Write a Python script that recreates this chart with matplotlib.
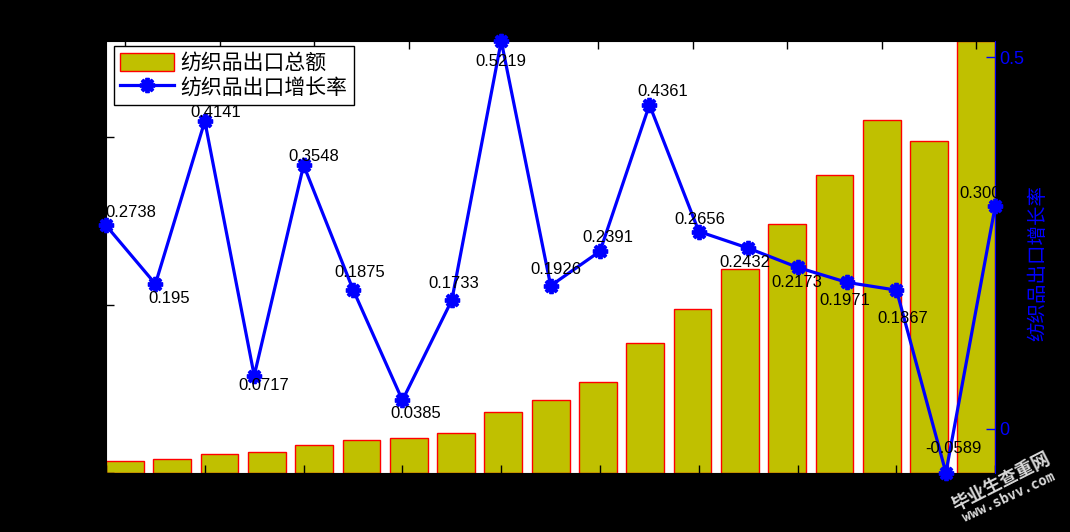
import numpy as np
import matplotlib
matplotlib.use("Agg")
import matplotlib.pyplot as plt

plt.rcParams['font.family'] = ['Liberation Sans', 'Noto Sans CJK SC', 'DejaVu Sans']

# -----------------------------
# Data
# -----------------------------
index = np.arange(1, 20)
export_total = [67.5, 80.6, 114, 122, 165, 196, 204, 239, 364, 434,
                538, 773, 978, 1216, 1480, 1772, 2103, 1979, 2573]
growth_rate = [0.2738, 0.195, 0.4141, 0.0717, 0.3548, 0.1875, 0.0385, 0.1733,
               0.5219, 0.1926, 0.2391, 0.4361, 0.2656, 0.2432, 0.2173, 0.1971,
               0.1867, -0.0589, 0.3003]
growth_labels = ['0.2738', '0.195', '0.4141', '0.0717', '0.3548', '0.1875',
                 '0.0385', '0.1733', '0.5219', '0.1926', '0.2391', '0.4361',
                 '0.2656', '0.2432', '0.2173', '0.1971', '0.1867', '-0.0589',
                 '0.3003']

# label offsets from the point (pixels, y up)
label_offsets = [(25, 13), (14, -15), (11, 9), (10, -10), (10, 9), (7, 17),
                 (13, -13), (2, 17), (0, -20), (5, 16), (8, 14), (13, 13),
                 (1, 12), (-3, -14), (-1, -15), (-2, -18), (6, -28), (8, 24),
                 (-11, 12)]

# -----------------------------
# Figure
# -----------------------------
fig = plt.figure(figsize=(10.7, 5.32), dpi=100, facecolor='black')
rect = [106 / 1070, 1 - 472.7 / 532, 889.3 / 1070, 431.7 / 532]

ax1 = fig.add_axes(rect, facecolor='white')
bars = ax1.bar(index, export_total, width=0.8, color='#C0C000',
               edgecolor='red', linewidth=1.0, label='纺织品出口总额')
ax1.set_xlim(0.6, 19.4)
ax1.set_ylim(0, 2573)
ax1.set_yticks([0, 1000, 2000])
ax1.set_xticks(np.arange(1, 20, 2))
ax1.tick_params(axis='x', direction='in', length=6, width=1, color='black',
                bottom=False, top=True, labelbottom=False, labeltop=False)
ax1.tick_params(axis='y', direction='in', length=6, width=1, color='black',
                left=True, right=False, labelleft=False)
for s in ax1.spines.values():
    s.set_color('black')

ax2 = fig.add_axes(rect, facecolor='none')
line, = ax2.plot(index, growth_rate, color='#0000FF', linewidth=2.3,
                 marker=(8, 2, 0), markersize=11, markeredgewidth=2.8,
                 label='纺织品出口增长率', clip_on=False, zorder=3)
ax2.set_xlim(1, 19)
ax2.set_ylim(-0.0589, 0.5219)
ax2.set_xticks(np.arange(1, 20, 2))
ax2.set_yticks([0, 0.5])
ax2.set_yticklabels(['0', '0.5'])
ax2.yaxis.tick_right()
ax2.yaxis.set_label_position('right')
ax2.tick_params(axis='x', direction='in', length=6, width=1, color='black',
                bottom=True, top=False, labelbottom=False)
ax2.tick_params(axis='y', direction='in', length=6.5, width=1, colors='#0000FF',
                labelsize=13, pad=3)
for name, s in ax2.spines.items():
    s.set_visible(name == 'right')
ax2.spines['right'].set_color('#0000FF')

ax2.set_ylabel('纺织品出口增长率', color='#0000FF', fontsize=14,
               family=['Noto Sans CJK SC', 'DejaVu Sans'])
ax2.yaxis.set_label_coords(1.0357, 0.486)

for x, y, txt, (dx, dy) in zip(index, growth_rate, growth_labels, label_offsets):
    ax2.annotate(txt, (x, y), xytext=(dx, dy), textcoords='offset pixels',
                 ha='center', va='center', fontsize=12, color='black',
                 annotation_clip=False, zorder=4)

leg = ax2.legend([bars, line], ['纺织品出口总额', '纺织品出口增长率'],
                 loc='upper left', bbox_to_anchor=(114 / 1070, 1 - 46 / 532),
                 bbox_transform=fig.transFigure, borderaxespad=0,
                 prop={'family': ['Noto Sans CJK SC', 'DejaVu Sans'], 'size': 15},
                 handlelength=2.6, handleheight=0.9, handletextpad=0.3,
                 labelspacing=0.1, borderpad=0.3, fancybox=False,
                 framealpha=1, edgecolor='black')
leg.get_frame().set_linewidth(1.0)
leg.set_zorder(10)

# watermark
fig.text(1001 / 1070, 1 - 482 / 532, '毕业生查重网', rotation=27, color='#d8d8d8',
         fontsize=13, fontweight='bold', ha='center', va='center',
         family=['Noto Sans CJK SC', 'DejaVu Sans'])
fig.text(1009 / 1070, 1 - 497 / 532, 'www.sbvv.com', rotation=25, color='#d8d8d8',
         fontsize=10, fontweight='bold', ha='center', va='center',
         family='DejaVu Sans Mono')

plt.savefig('out.png', dpi=100, facecolor='black')
plt.close()
